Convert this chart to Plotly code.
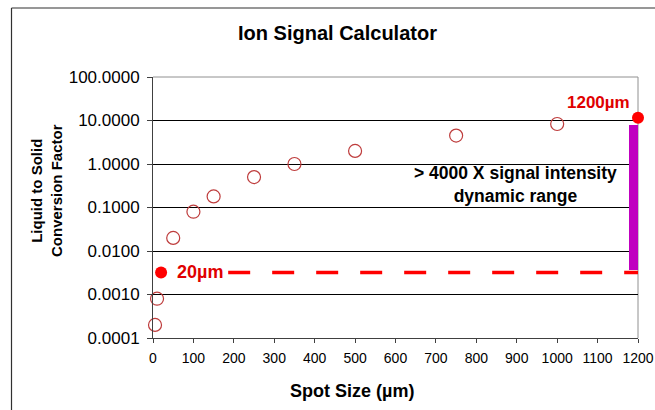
import plotly.graph_objects as go

# ---- data ----
spot_size = [5, 10, 50, 100, 150, 250, 350, 500, 750, 1000]
conv_factor = [0.0002, 0.0008, 0.02, 0.08, 0.18, 0.5, 1.0, 2.0, 4.5, 8.3]

highlight_size = [20, 1200]
highlight_factor = [0.0032, 11.6]

dash_x = [186, 1200]
dash_y = [0.0032, 0.0032]

range_bar_x = [1201]
range_bar_lo = [0.0036]
range_bar_hi = [7.8]

x_ticks = list(range(0, 1300, 100))
y_tickvals = [0.0001, 0.001, 0.01, 0.1, 1, 10, 100]
y_ticktext = ["0.0001", "0.0010", "0.0100", "0.1000", "1.0000", "10.0000", "100.0000"]

# ---- layout helpers ----
W, H = 655, 410
L, R, T, B = 153, 17, 77, 72
pw, ph = W - L - R, H - T - B


def px(x):
    return (x - L) / pw


def py(y):
    return (H - B - y) / ph


FONT = "Liberation Sans, Arial, sans-serif"

fig = go.Figure()

fig.add_trace(go.Bar(
    x=range_bar_x,
    base=range_bar_lo,
    y=[h - l for h, l in zip(range_bar_hi, range_bar_lo)],
    width=47,
    marker=dict(color="#C000C0", line=dict(width=0)),
    cliponaxis=False,
    showlegend=False,
    hoverinfo="skip",
))

fig.add_trace(go.Scatter(
    x=dash_x, y=dash_y, mode="lines",
    line=dict(color="#FF0000", width=3.5, dash="22px,22px"),
    showlegend=False,
))

fig.add_trace(go.Scatter(
    x=spot_size, y=conv_factor, mode="markers",
    marker=dict(symbol="circle-open", size=13, color="#BE3C3C", line=dict(width=1.2, color="#BE3C3C")),
    cliponaxis=False,
    showlegend=False,
))

fig.add_trace(go.Scatter(
    x=highlight_size, y=highlight_factor, mode="markers",
    marker=dict(symbol="circle", size=12, color="#FF0000"),
    cliponaxis=False,
    showlegend=False,
))

fig.update_layout(
    width=W, height=H,
    margin=dict(l=L, r=R, t=T, b=B, autoexpand=False),
    paper_bgcolor="white",
    plot_bgcolor="white",
    font=dict(family=FONT, color="black"),
    title=dict(
        text="<b>Ion Signal Calculator</b>",
        x=337.5 / W, y=1 - 33 / H, xanchor="center", yanchor="middle",
        font=dict(size=20, family=FONT, color="black"),
    ),
    xaxis=dict(
        range=[0, 1200], tickvals=x_ticks, ticks="outside", ticklen=4,
        tickcolor="#404040", showline=True, linecolor="#404040", linewidth=1,
        showgrid=False, zeroline=False, ticklabelstandoff=3, automargin=False,
        tickfont=dict(size=14, family=FONT, color="black"),
    ),
    yaxis=dict(
        type="log", range=[-4, 2], tickvals=y_tickvals, ticktext=y_ticktext,
        ticks="outside", ticklen=5, tickcolor="#404040",
        showline=True, linecolor="#404040", linewidth=1, automargin=False,
        showgrid=True, gridcolor="#000000", gridwidth=1, ticklabelstandoff=4,
        tickfont=dict(size=17, family=FONT, color="black"),
    ),
    bargap=0,
)

# plot area top and right border (gray) and outer chart border (top + left)
fig.add_shape(type="line", xref="paper", yref="paper", x0=0, x1=1, y0=1, y1=1,
              line=dict(color="#909090", width=1))
fig.add_shape(type="line", xref="paper", yref="paper", x0=1, x1=1, y0=0, y1=1,
              line=dict(color="#909090", width=1), layer="below")
fig.add_shape(type="line", xref="paper", yref="paper",
              x0=px(11.5), x1=px(W + 5), y0=py(8), y1=py(8),
              line=dict(color="#303030", width=1.2))
fig.add_shape(type="line", xref="paper", yref="paper",
              x0=px(11.5), x1=px(11.5), y0=py(8), y1=py(H + 5),
              line=dict(color="#303030", width=1.2))

annotations = [
    dict(text="<b>Spot Size (µm)</b>", x=px(352), y=py(391),
         font=dict(size=18, color="black")),
    dict(text="<b>Liquid to Solid<br>Conversion Factor</b>", x=px(46), y=py(191),
         textangle=-90, font=dict(size=15, color="black")),
    dict(text="<b>> 4000 X signal intensity<br>dynamic range</b>", x=px(515), y=py(184),
         font=dict(size=17.5, color="black")),
    dict(text="<b>1200µm</b>", x=px(632), y=py(102), xanchor="right",
         font=dict(size=17, color="#E00000")),
    dict(text="<b>20µm</b>", x=px(175), y=py(272), xanchor="left",
         font=dict(size=18, color="#E00000")),
]
for a in annotations:
    a.setdefault("xanchor", "center")
    fig.add_annotation(xref="paper", yref="paper", showarrow=False, yanchor="middle",
                       font_family=FONT, **a)

fig.write_html("out.html", config={"displayModeBar": False},
               post_script="document.body.style.margin='0px';"
                           "document.body.style.overflow='hidden';")
